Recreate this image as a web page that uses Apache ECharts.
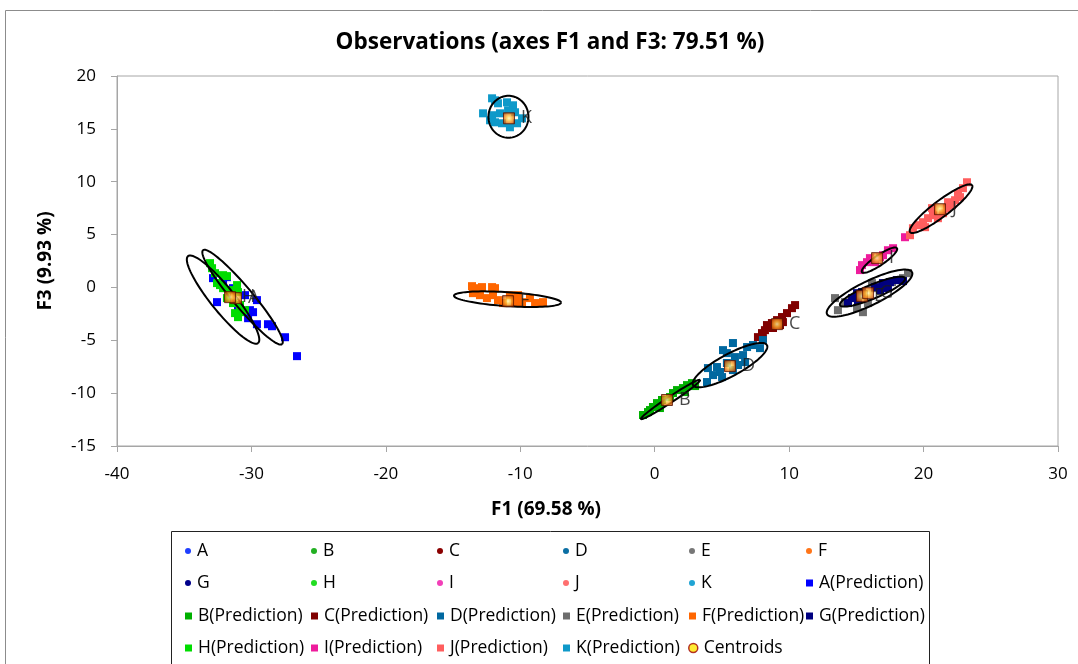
<!DOCTYPE html>
<html><head><meta charset="utf-8">
<script src="https://cdn.jsdelivr.net/npm/echarts@6/dist/echarts.min.js"></script>
<style>html,body{margin:0;padding:0;background:#fff}#c{width:1078px;height:664px}</style>
</head><body><div id="c"></div>
<script>
// ---- data (F1, F3) ----
const classes = ['A','B','C','D','E','F','G','H','I','J','K'];
const A_pts = [[-32.86,0.88],[-31.82,0.97],[-32.11,0.41],[-32.56,-1.39],[-31.0,-1.86],[-30.11,-2.15],[-29.88,-2.34],[-30.25,-2.91],[-29.59,-3.48],[-28.77,-3.48],[-28.47,-3.67],[-27.5,-4.71],[-26.61,-6.5],[-29.59,-1.2],[-31.37,-0.07],[-30.48,-0.73]];
const B_pts = [[-0.87,-12.07],[-0.5,-11.79],[-0.13,-11.31],[0.17,-10.94],[0.54,-10.65],[1.14,-10.37],[1.36,-9.99],[1.66,-9.71],[2.1,-9.52],[2.4,-9.24],[2.77,-9.05],[3.0,-9.33],[2.25,-9.9],[0.39,-11.41],[-0.35,-11.6]];
const C_pts = [[7.68,-4.7],[7.98,-4.32],[8.2,-4.04],[8.42,-3.75],[8.72,-3.37],[9.1,-3.09],[9.47,-2.8],[9.84,-2.43],[10.21,-1.96],[10.44,-1.67],[8.35,-3.56],[8.8,-3.84],[9.32,-3.56],[8.05,-4.79],[9.54,-3.28]];
const D_pts = [[5.82,-5.26],[6.87,-5.64],[7.31,-5.45],[7.83,-5.74],[8.05,-4.98],[5.08,-5.93],[5.37,-6.21],[5.97,-6.59],[6.57,-6.4],[4.63,-7.53],[3.96,-7.63],[4.34,-8.29],[5.01,-8.48],[5.82,-7.82],[6.2,-7.34],[5.37,-7.15],[3.89,-8.95],[4.86,-8.0],[6.72,-7.06]];
const E_pts = [[13.41,-1.01],[13.63,-2.15],[15.05,-1.96],[15.49,-2.34],[16.16,0.41],[16.39,-0.07],[16.91,0.22],[18.84,1.35],[18.47,0.88],[17.65,0.5],[14.15,-1.39],[15.86,-1.48]];
const F_pts = [[-13.59,0.12],[-13.22,-0.07],[-12.85,0.03],[-12.1,0.03],[-11.88,-0.07],[-13.52,-0.54],[-13.0,-0.73],[-12.48,-1.01],[-12.03,-0.73],[-11.66,-1.2],[-10.77,-0.73],[-10.17,-0.73],[-10.39,-1.39],[-9.87,-1.39],[-11.29,-1.48],[-8.9,-1.48],[-8.31,-1.39],[-9.28,-1.01]];
const G_pts = [[14.38,-1.48],[14.68,-1.01],[15.05,-0.54],[15.42,-0.44],[16.39,0.03],[16.98,0.41],[17.5,0.5],[18.02,0.69],[18.47,0.6],[17.35,-0.07],[16.76,-0.25],[15.12,-1.2]];
const H_pts = [[-33.08,2.3],[-32.93,1.82],[-32.71,1.35],[-32.11,1.16],[-31.82,1.07],[-32.56,0.41],[-32.34,0.22],[-32.11,-0.07],[-31.59,-0.25],[-31.07,0.22],[-31.0,-0.44],[-31.82,-1.01],[-31.37,-1.48],[-30.85,-1.67],[-30.48,-2.15],[-31.22,-2.43],[-31.0,-2.81],[-30.7,-2.34]];
const I_pts = [[15.27,1.64],[15.42,2.11],[15.79,2.39],[16.01,2.77],[16.39,2.39],[16.76,2.86],[16.98,3.05],[17.35,3.52],[17.73,3.71],[18.62,4.75]];
const J_pts = [[19.21,5.6],[19.59,5.89],[19.96,6.17],[20.33,6.55],[20.7,6.83],[21.07,6.55],[21.45,7.02],[21.74,7.5],[22.11,7.78],[22.34,8.25],[22.71,8.54],[22.93,9.39],[23.23,9.95],[22.56,8.91],[21.82,8.06],[20.63,7.5],[20.11,5.7],[18.99,4.94]];
const K_pts = [[-12.1,17.89],[-11.88,17.7],[-11.66,17.42],[-10.99,17.51],[-10.54,17.23],[-12.77,16.47],[-12.1,16.29],[-11.51,16.47],[-11.88,15.62],[-11.36,15.53],[-10.77,15.15],[-10.24,15.53],[-9.87,16.0],[-12.25,15.81],[-10.91,16.76],[-10.39,16.57]];
const points = {A:A_pts,B:B_pts,C:C_pts,D:D_pts,E:E_pts,F:F_pts,G:G_pts,H:H_pts,I:I_pts,J:J_pts,K:K_pts};

const centroidNames = ['A','H','K','F','B','D','C','J','I','E','G'];
const centroidF1 = [-31.15,-31.59,-10.84,-10.91,0.91,5.6,9.1,21.22,16.54,15.42,15.87];
const centroidF3 = [-1.01,-0.92,16.0,-1.3,-10.65,-7.44,-3.47,7.4,2.77,-0.82,-0.54];

// confidence ellipses: centre (F1,F3), half-axis vector u, half-axis vector v
const ellipseNames = ['H','A','K','F','B','D','J','I','E','G'];
const ellipseParams = [
  [-32.11,-1.15, 2.604,-4.112, -0.696,-0.712],
  [-30.66,-0.92, 2.938,-4.442, -0.570,-0.608],
  [-10.88,16.14, 1.488,0, 0,1.985],
  [-10.95,-1.11, 3.98,-0.331, -0.034,-0.66],
  [1.175,-10.6, 2.194,1.843, 0.123,-0.236],
  [5.6,-7.35, 2.752,1.89, 0.39,-0.916],
  [21.3,7.45, 2.306,2.221, 0.359,-0.603],
  [16.72,2.58, 1.302,1.134, 0.21,-0.39],
  [15.98,-0.54, 3.162,1.985, 0.396,-1.017],
  [16.2,-0.4, 2.418,1.276, 0.2,-0.611]
];

const xTicks = [-40,30,10];
const yTicks = [-15,20,5];

// ---- styles ----
const obsColors = {A:'#1F3FFF',B:'#22B022',C:'#8B0000',D:'#0B6FA4',E:'#777777',F:'#FF7519',G:'#00008B',H:'#22DD22',I:'#F23FB8',J:'#FF6F6F',K:'#20A4D4'};
const predColors = {A:'#0000FF',B:'#00B000',C:'#800000',D:'#0068A0',E:'#6E6E6E',F:'#FF6600',G:'#000080',H:'#00DD00',I:'#EE1C9C',J:'#FF5E5E',K:'#0E99C9'};
const FONT = '"Open Sans", Lato, sans-serif';

const series = [];
classes.forEach(c => series.push({name:c,type:'scatter',symbol:'circle',symbolSize:5,z:2,
  itemStyle:{color:obsColors[c],opacity:1},data:points[c],silent:true}));
classes.forEach(c => series.push({name:c+'(Prediction)',type:'scatter',symbol:'rect',symbolSize:8,z:3,
  itemStyle:{color:predColors[c],opacity:1},data:points[c],silent:true}));
series.push({name:'ellipses',type:'custom',coordinateSystem:'cartesian2d',z:4,silent:true,clip:false,
  encode:{x:0,y:1},
  data:ellipseParams,
  renderItem:function(params,api){
    const cx=api.value(0),cy=api.value(1),ux=api.value(2),uy=api.value(3),vx=api.value(4),vy=api.value(5);
    const pts=[];
    for(let k=0;k<=96;k++){const t=k/96*2*Math.PI;
      pts.push(api.coord([cx+ux*Math.cos(t)+vx*Math.sin(t), cy+uy*Math.cos(t)+vy*Math.sin(t)]));}
    return {type:'polyline',shape:{points:pts},style:{stroke:'#000',lineWidth:2,fill:null}};
  }});
series.push({name:'Centroids',type:'scatter',symbol:'rect',symbolSize:11,z:5,silent:true,
  itemStyle:{color:{type:'radial',x:0.5,y:0.5,r:0.65,colorStops:[{offset:0,color:'#FFF6B0'},{offset:0.3,color:'#FFC440'},{offset:0.7,color:'#E06a10'},{offset:1,color:'#8A2C00'}]},
    borderColor:'#5A1400',borderWidth:1},
  label:{show:true,position:'right',distance:6,formatter:'{b}',color:'#1a1a1a',fontSize:18,fontFamily:FONT},
  data:centroidNames.map((n,i)=>({name:n,value:[centroidF1[i],centroidF3[i]]}))});

// legend grid
const legendOrder = ['A','B','C','D','E','F','G','H','I','J','K','A(Prediction)',
 'B(Prediction)','C(Prediction)','D(Prediction)','E(Prediction)','F(Prediction)','G(Prediction)',
 'H(Prediction)','I(Prediction)','J(Prediction)','K(Prediction)','Centroids'];
const colX=[185,311,437,563,689,806], rowY=[550,582,615,647];
const legends = legendOrder.map((n,i)=>{
  const r=Math.floor(i/6), c=i%6;
  let item;
  if(n==='Centroids') item={name:n,icon:'circle',itemStyle:{color:'#FFE600',borderColor:'#A00000',borderWidth:1.5}};
  else if(n.indexOf('(')>0) item={name:n,icon:'rect'};
  else item={name:n,icon:'circle'};
  const isC = n==='Centroids';
  const sz = isC?9:(n.indexOf('(')>0?7:6);
  return {data:[item],left:colX[c]-(isC?1:0),top:rowY[r]-8,itemWidth:sz,itemHeight:sz,itemGap:0,padding:0,
    selectedMode:false,textStyle:{fontSize:17.5,color:'#000',fontFamily:FONT,padding:[0,0,0,1]}};
});

const chart = echarts.init(document.getElementById('c'),null,{renderer:'canvas'});
chart.setOption({
  animation:false,
  backgroundColor:'#fff',
  grid:{left:117,right:20,top:76,bottom:218,show:true,borderColor:'#A6A6A6',borderWidth:1},
  xAxis:{type:'value',min:xTicks[0],max:xTicks[1],interval:xTicks[2],
    axisLine:{show:true,onZero:false,lineStyle:{color:'#A6A6A6'}},
    axisTick:{show:true,inside:false,length:6,lineStyle:{color:'#A6A6A6'}},
    splitLine:{show:false},
    axisLabel:{margin:20,fontSize:17,color:'#000',fontFamily:FONT}},
  yAxis:{type:'value',min:yTicks[0],max:yTicks[1],interval:yTicks[2],
    name:'F3 (9.93 %)',nameLocation:'middle',nameGap:62,nameRotate:90,
    nameTextStyle:{fontSize:19,fontWeight:'bold',color:'#000',fontFamily:FONT},
    axisLine:{show:true,onZero:false,lineStyle:{color:'#A6A6A6'}},
    axisTick:{show:true,inside:false,length:6,lineStyle:{color:'#A6A6A6'}},
    splitLine:{show:false},
    axisLabel:{margin:21,fontSize:17,color:'#000',fontFamily:FONT}},
  legend:legends,
  graphic:[
    {type:'rect',shape:{x:5.5,y:10.5,width:1100,height:700},style:{fill:null,stroke:'#8C8C8C',lineWidth:1},silent:true},
    {type:'rect',shape:{x:171.5,y:531.5,width:758,height:140},style:{fill:null,stroke:'#222',lineWidth:1},silent:true},
    {type:'text',x:550,y:43,style:{text:'Observations (axes F1 and F3: 79.51 %)',fontSize:22.5,fontWeight:'bold',fontFamily:FONT,fill:'#000',textAlign:'center',textVerticalAlign:'middle'},silent:true},
    {type:'text',x:546,y:510,style:{text:'F1 (69.58 %)',fontSize:19,fontWeight:'bold',fontFamily:FONT,fill:'#000',textAlign:'center',textVerticalAlign:'middle'},silent:true}
  ],
  series:series
});
</script></body></html>
